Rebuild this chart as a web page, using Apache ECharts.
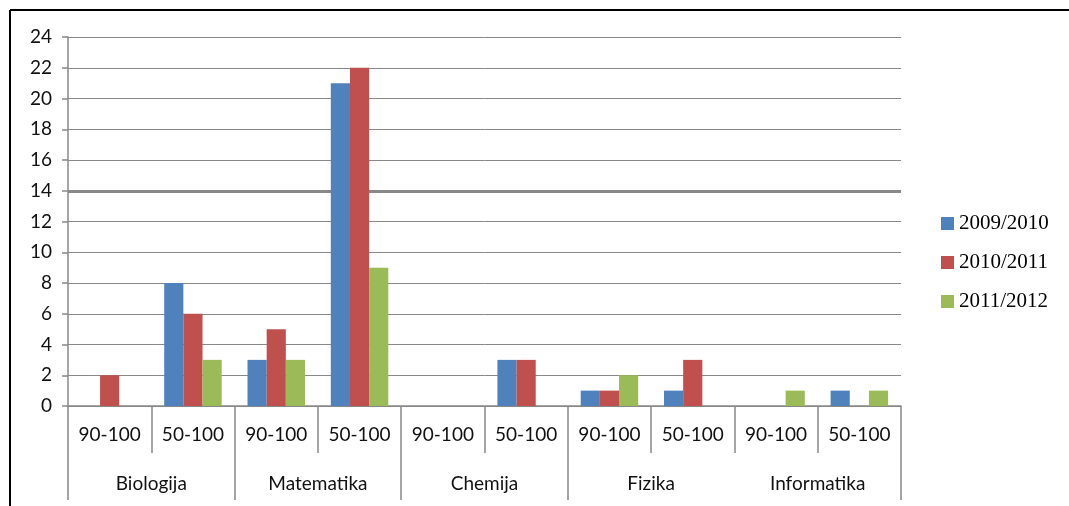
<!DOCTYPE html>
<html>
<head>
<meta charset="utf-8">
<script src="https://cdn.jsdelivr.net/npm/echarts@6/dist/echarts.min.js"></script>
<style>
html,body{margin:0;padding:0;background:#fff;}
#chart{width:1069px;height:506px;}
</style>
</head>
<body>
<div id="chart"></div>
<script>
const subCategories = ['90-100','50-100','90-100','50-100','90-100','50-100','90-100','50-100','90-100','50-100'];
const groups = ['Biologija','Matematika','Chemija','Fizika','Informatika'];
const seriesNames = ['2009/2010','2010/2011','2011/2012'];
const s2009 = [0, 8, 3, 21, 0, 3, 1, 1, 0, 1];
const s2010 = [2, 6, 5, 22, 0, 3, 1, 3, 0, 0];
const s2011 = [0, 3, 3, 9, 0, 0, 2, 0, 1, 1];
const yTicks = {min: 0, max: 24, interval: 2};
const highlightLine = 14;

const colors = ['#4F81BD', '#C0504D', '#9BBB59'];
const axisGray = '#888888';
const font = 'Lato, "Open Sans", sans-serif';

const chart = echarts.init(document.getElementById('chart'));
const dataSets = [s2009, s2010, s2011];
chart.setOption({
  animation: false,
  color: colors,
  graphic: [
    {type: 'line', shape: {x1: 10, y1: 10, x2: 1069, y2: 10}, style: {stroke: '#000', lineWidth: 2}},
    {type: 'line', shape: {x1: 10, y1: 10, x2: 10, y2: 506}, style: {stroke: '#000', lineWidth: 2}}
  ],
  legend: {
    orient: 'vertical',
    left: 936,
    top: 208,
    itemWidth: 13,
    itemHeight: 13,
    itemGap: 18,
    icon: 'rect',
    data: seriesNames,
    textStyle: {fontFamily: '"Liberation Serif", serif', fontSize: 21, color: '#000', padding: [2, 0, 0, 0]}
  },
  grid: {left: 68, right: 168, top: 37, bottom: 100},
  xAxis: [
    {
      type: 'category',
      data: subCategories,
      position: 'bottom',
      axisLine: {show: true, lineStyle: {color: axisGray, width: 1.5}},
      axisTick: {show: true, length: 47, interval: 0, lineStyle: {color: axisGray, width: 1.5}},
      axisLabel: {interval: 0, margin: 19, fontFamily: font, fontSize: 19, color: '#111'}
    },
    {
      type: 'category',
      data: groups,
      position: 'bottom',
      gridIndex: 0,
      axisLine: {show: false},
      axisTick: {show: true, length: 94, interval: function (idx) { return idx !== 4; }, lineStyle: {color: axisGray, width: 1.5}},
      axisLabel: {interval: 0, margin: 68, fontFamily: font, fontSize: 19, color: '#111'}
    }
  ],
  yAxis: {
    type: 'value',
    min: yTicks.min,
    max: yTicks.max,
    interval: yTicks.interval,
    axisLine: {show: true, lineStyle: {color: axisGray, width: 1.5}},
    axisTick: {show: true, length: 6, lineStyle: {color: axisGray, width: 1.5}},
    axisLabel: {margin: 16, fontFamily: font, fontSize: 19, color: '#111'},
    splitLine: {show: true, lineStyle: {color: axisGray, width: 1}}
  },
  series: seriesNames.map(function (name, i) {
    const s = {
      name: name,
      type: 'bar',
      xAxisIndex: 0,
      z: 3,
      data: dataSets[i],
      barGap: '0%',
      barCategoryGap: '31%',
      itemStyle: {color: colors[i]}
    };
    if (i === 0) {
      s.markLine = {
        silent: true,
        z: 1,
        symbol: ['none', 'none'],
        label: {show: false},
        lineStyle: {color: axisGray, width: 3, type: 'solid'},
        data: [{yAxis: highlightLine}]
      };
    }
    return s;
  })
});
</script>
</body>
</html>
